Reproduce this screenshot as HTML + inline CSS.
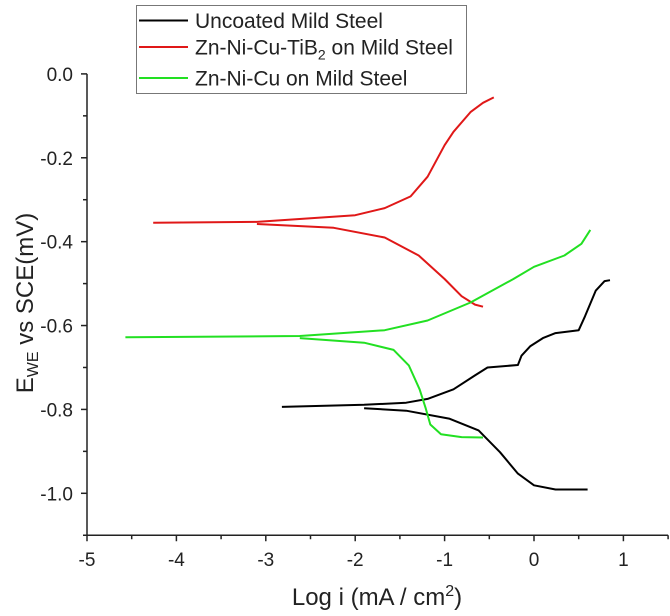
<!DOCTYPE html>
<html><head><meta charset="utf-8"><style>
body{margin:0;background:#fff;}
svg{display:block;font-family:"Liberation Sans",Arial,sans-serif;}
</style></head><body>
<svg id="chart" width="670" height="616" viewBox="0 0 670 616">
<g id="axes"></g>
<g id="series"></g>
<g>
<rect x="136.5" y="5.5" width="330" height="88" fill="#fff" stroke="#777" stroke-width="1"/>
<g>
<line x1="139" y1="20.5" x2="188" y2="20.5" stroke="#000" stroke-width="2"/>
<text x="195" y="28" font-size="21" fill="#222">Uncoated Mild Steel</text></g>
<g>
<line x1="139" y1="47" x2="188" y2="47" stroke="#e01818" stroke-width="2"/>
<text x="195" y="54.5" font-size="21" fill="#222">Zn-Ni-Cu-TiB<tspan font-size="14" dy="5">2</tspan><tspan dy="-5"> on Mild Steel</tspan></text></g>
<g>
<line x1="139" y1="78" x2="188" y2="78" stroke="#22e022" stroke-width="2"/>
<text x="195" y="85.5" font-size="21" fill="#222">Zn-Ni-Cu on Mild Steel</text></g>
</g>
<text x="377" y="605" font-size="24" text-anchor="middle" fill="#222">Log i (mA / cm<tspan font-size="16" dy="-9">2</tspan><tspan dy="9">)</tspan></text>
<text transform="translate(33,303) rotate(-90)" font-size="24" text-anchor="middle" fill="#222">E<tspan font-size="16" dy="5">WE</tspan><tspan dy="-5"> vs SCE(mV)</tspan></text>
</svg>
<script>
const xTicks=[-5,-4,-3,-2,-1,0,1];
const yTicks=[0,-0.2,-0.4,-0.6,-0.8,-1.0];
const yTickLabels=["0.0","-0.2","-0.4","-0.6","-0.8","-1.0"];
const redUpX=[-4.26,-3.1,-2.0,-1.67,-1.38,-1.19,-1.0,-0.9,-0.71,-0.57,-0.45];
const redUpY=[-0.355,-0.353,-0.337,-0.32,-0.292,-0.245,-0.17,-0.138,-0.091,-0.069,-0.056];
const redLoX=[-3.1,-2.24,-1.67,-1.29,-1.0,-0.81,-0.66,-0.57];
const redLoY=[-0.358,-0.367,-0.39,-0.433,-0.489,-0.53,-0.55,-0.555];
const greenUpX=[-4.57,-2.62,-1.67,-1.19,-0.71,-0.23,0,0.34,0.53,0.63];
const greenUpY=[-0.628,-0.625,-0.611,-0.588,-0.545,-0.489,-0.46,-0.433,-0.405,-0.372];
const greenLoX=[-2.62,-1.9,-1.57,-1.4,-1.28,-1.21,-1.16,-1.04,-0.81,-0.57];
const greenLoY=[-0.63,-0.641,-0.658,-0.695,-0.752,-0.798,-0.836,-0.859,-0.866,-0.867];
const blackUpX=[-2.82,-1.9,-1.43,-1.19,-0.9,-0.66,-0.52,-0.18,-0.14,-0.04,0.1,0.24,0.5,0.57,0.69,0.79,0.85];
const blackUpY=[-0.794,-0.789,-0.784,-0.775,-0.752,-0.719,-0.7,-0.694,-0.672,-0.649,-0.63,-0.618,-0.611,-0.578,-0.517,-0.494,-0.492];
const blackLoX=[-1.9,-1.43,-0.95,-0.62,-0.38,-0.18,0,0.24,0.6];
const blackLoY=[-0.797,-0.803,-0.822,-0.85,-0.902,-0.953,-0.981,-0.991,-0.991];

const X0=87,XS=89.4,Y0=73.9,YS=419.4;
function sx(v){return X0+(v+5)*XS;}
function sy(v){return Y0-v*YS;}
const NS="http://www.w3.org/2000/svg";
const axes=document.getElementById('axes'),ser=document.getElementById('series');
function mk(tag,attrs,parent){const e=document.createElementNS(NS,tag);for(const k in attrs)e.setAttribute(k,attrs[k]);parent.appendChild(e);return e;}
const ya=mk('line',{x1:sx(-5),y1:sy(0),x2:sx(-5),y2:sy(-1.1),stroke:'#222','stroke-width':1.5},axes);


const xa=mk('line',{x1:sx(-5),y1:sy(-1.1),x2:sx(1.5),y2:sy(-1.1),stroke:'#222','stroke-width':1.5},axes);


for(let v=-5;v<=1.5001;v+=0.5){const maj=Math.abs(v-Math.round(v))<1e-6;
 mk('line',{x1:sx(v),y1:sy(-1.1),x2:sx(v),y2:sy(-1.1)+(maj?6:4),stroke:'#222','stroke-width':1.5},axes);}
xTicks.forEach(v=>{const t=mk('text',{x:sx(v),y:sy(-1.1)+31,'font-size':19,'text-anchor':'middle',fill:'#222'},axes);t.textContent=String(v);
 
 });
for(let i=0;i<=11;i++){const v=-i*0.1;
 mk('line',{x1:sx(-5),y1:sy(v),x2:sx(-5)-(i%2===0?6:4),y2:sy(v),stroke:'#222','stroke-width':1.5},axes);}
yTicks.forEach((v,i)=>{const t=mk('text',{x:73,y:sy(v)+7,'font-size':19,'text-anchor':'end',fill:'#222'},axes);t.textContent=yTickLabels[i];
 
 });
function line(xs,ys,color,name){const d=xs.map((x,i)=>(i?'L':'M')+sx(x).toFixed(1)+','+sy(ys[i]).toFixed(1)).join(' ');
 const p=mk('path',{d:d,fill:'none',stroke:color,'stroke-width':2,'stroke-linejoin':'round'},ser);
 
 }
line(redUpX,redUpY,'#e01818','tib2-anodic-line');
line(redLoX,redLoY,'#e01818','tib2-cathodic-line');
line(blackUpX,blackUpY,'#000','uncoated-anodic-line');
line(blackLoX,blackLoY,'#000','uncoated-cathodic-line');
line(greenUpX,greenUpY,'#22e022','zn-ni-cu-anodic-line');
line(greenLoX,greenLoY,'#22e022','zn-ni-cu-cathodic-line');
</script>
</body></html>
